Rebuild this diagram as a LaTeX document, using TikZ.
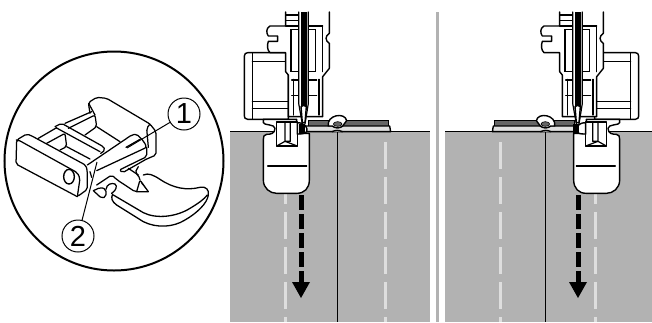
\documentclass[tikz,border=0pt]{standalone}
\usepackage{fontspec}
\setmainfont{Liberation Sans}
\definecolor{cloth}{gray}{0.70}
\definecolor{stitch}{gray}{0.87}
\definecolor{layerdark}{gray}{0.40}
\definecolor{layerlight}{gray}{0.88}
\tikzset{
  ol/.style={draw=black,line width=1.4pt,line join=round,line cap=round},
  thn/.style={draw=black,line width=1.2pt,line cap=round},
  fine/.style={draw=black,line width=1.25pt,line cap=round,line join=round,rounded corners=2pt},
  callout/.style={circle,draw=black,line width=1pt,fill=white,minimum size=32pt,inner sep=0pt,font=\fontsize{29}{29}\selectfont},
  leader/.style={draw=black,line width=1pt},
  pale/.style={draw=stitch,line width=3pt,dash pattern=on 27pt off 8pt},
  path dots/.style={draw=black,line width=5pt,dash pattern=on 15pt off 4pt}
}
\newcommand{\feedpart}{%
  \fill[layerdark,draw=black,line width=1pt] (250,378)--(250,360)--(490,360)--(490,378)--cycle;
  \path[ol,fill=layerlight] (240,395)--(240,378)--(322,378) .. controls (330,385) and (345,385) .. (353,378)--(494,378)--(497,395)--cycle;
  \path[ol,fill=white] (310,378) .. controls (304,345) and (360,335) .. (365,362)--(353,378) .. controls (345,385) and (330,385) .. (322,378)--cycle;
  \fill[layerdark,draw=black,line width=.6pt] (338,372) ellipse (13 and 7);
  \draw[black,line width=1.2pt] (337,393)--(337,966);
  \path[ol,fill=white] (322,395) .. controls (330,390) and (342,390) .. (352,395);
  \path[ol,fill=white] (68,158)--(190,158)--(190,358)--(68,358) .. controls (60,358) and (58,352) .. (58,348)--(58,168) .. controls (58,162) and (62,158) .. (68,158)--cycle;
  \draw[thn] (82,158)--(82,358) (82,185)--(190,185) (82,305)--(190,305) (82,325)--(190,325);
  \path[ol,fill=white] (115,358)--(115,368) .. controls (115,376) and (150,372) .. (150,385) .. controls (150,402) and (135,403) .. (125,403) .. controls (117,403) and (115,410) .. (115,418)--(115,540) .. controls (115,565) and (135,580) .. (155,580)--(215,580) .. controls (238,580) and (253,565) .. (253,540)--(253,400)--(215,400)--(215,358)--cycle;
  \draw[thn] (128,498)--(245,498);
  \path[ol,fill=white] (155,366)--(217,366)--(217,438)--(155,438)--cycle;
  \draw[thn] (155,438)--(180,424)--(217,438) (180,366)--(180,424) (196,366)--(196,424) (180,424)--(196,424);
  \path[ol,fill=white] (217,368) .. controls (240,368) and (250,385) .. (245,395) .. controls (240,402) and (225,402) .. (217,402)--cycle;
}
\newcommand{\shankpart}{%
  \path[ol,fill=white] (182,36)--(182,78)--(135,78) .. controls (122,85) and (124,100) .. (130,108)--(158,108)--(158,124)--(130,124) .. controls (126,135) and (126,150) .. (135,158)--(182,158)--(182,215)--(190,225)--(190,350)--(293,350)--(293,230)--(313,205)--(313,130) .. controls (300,122) and (300,108) .. (313,100)--(313,36);
  \draw[thn] (293,78)--(293,215) (182,78)--(293,78);
  \draw[thn] (198,88)--(272,88)--(272,215)--(198,215)--cycle;
  \draw[thn] (200,240)--(275,240) (200,287)--(275,287);
  \draw[thn] (182,45)--(222,45) (182,62)--(222,62);
  \draw[thn] (205,238)--(205,345) (282,238)--(282,345);
  \fill[white] (221,36)--(250,36)--(250,310)--(240,370)--(232,370)--(221,310)--cycle;
  \draw[thn] (221,36)--(221,310)--(232,372) (250,36)--(250,310)--(240,372);
  \fill[black] (228,36)--(245,36)--(245,320)--(228,320)--cycle;
  \path[ol,fill=white] (228,320)--(236,316)--(244,320)--(240,368)--(232,368)--cycle;
  \fill[black] (222,372)--(240,372)--(240,402)--(222,402)--cycle;
}
\begin{document}
\begin{tikzpicture}[x=1pt,y=-1pt]
\useasboundingbox (0,0) rectangle (652,322);
\fill[white] (0,0) rectangle (652,322);
\fill[cloth] (230,131) rectangle (430,322);
\fill[cloth] (445,131) rectangle (652,322);
\fill[cloth] (436,12) rectangle (439,322);
\draw[black,line width=1pt] (230,131)--(430,131) (445,131)--(652,131);
\draw[pale] (285,142)--(285,322);
\draw[pale] (385,142)--(385,322);
\draw[pale] (500,142)--(500,322);
\draw[pale] (595,142)--(595,322);
\begin{scope}[shift={(225,0)},x=.33333pt,y=-.33333pt]\feedpart\end{scope}
\begin{scope}[shift={(225,0)},x=.33333pt,y=-.33333pt]\shankpart\end{scope}
\begin{scope}[shift={(658,0)},x=-.33333pt,y=-.33333pt]\feedpart\end{scope}
\begin{scope}[shift={(499,0)},x=.33333pt,y=-.33333pt]\shankpart\end{scope}
\coordinate (al1) at (301,195); \coordinate (al2) at (301,283);
\coordinate (ar1) at (578,195); \coordinate (ar2) at (578,283);
\draw[path dots] (al1)--(al2);
\draw[path dots] (ar1)--(ar2);
\fill[black] (292,282)--(310,282)--(301,298)--cycle;
\fill[black] (569,282)--(587,282)--(578,298)--cycle;
% inset
\node[circle,draw=black,line width=2pt,fill=white,minimum size=219pt,inner sep=0pt] (lens) at (114,161) {};
\begin{scope}[shift={(0,60)},x=.33333pt,y=-.33333pt]
  \draw[fine] (232,410)--(48,312)--(50,240)--(80,222)--(92,226)--(258,316)--(262,335)--(262,388)--(232,410)--(240,355)--(232,338)--(55,240)--(50,240);
  \draw[ol] (207,350) ellipse (16 and 22);
  \draw[fine] (115,235)--(170,203);
  \draw[fine] (140,250)--(195,220)--(200,260)--(180,270);
  \draw[fine] (200,260)--(270,297);
  \draw[fine] (165,200)--(185,190)--(310,260)--(316,270)--(302,280);
  \draw[fine] (168,203)--(300,275);
  \draw[fine] (195,190)--(275,155);
  \draw[fine] (205,205)--(285,165)--(290,200)--(255,225);
  \draw[fine] (290,200)--(360,245);
  \draw[fine] (270,160)--(265,128)--(290,112)--(320,115)--(450,192)--(468,215)--(468,285)--(438,298);
  \draw[fine] (266,130)--(285,165);
  \draw[fine] (450,192)--(440,205)--(445,262);
  \draw[fine] (262,315)--(395,225)--(410,222)--(432,245)--(440,262)--(290,332);
  \draw[fine] (378,262)--(420,238);
  \draw[fine] (440,262)--(440,290)--(358,330)--(368,338)--(438,298);
  \draw[fine] (270,335)--(275,352);
  \draw[fine] (280,392)--(305,415)--(318,410)--(318,388)--(302,382)--(280,392);
  \draw[fine] (290,375)--(335,345)--(352,360)--(405,395)--(445,395);
  \draw[line width=1.25pt,line cap=round] (318,388) .. controls (320,372) and (335,368) .. (345,372) .. controls (352,378) and (350,390) .. (335,400);
  \draw[fine] (410,395)--(420,360)--(445,395);
  \draw[fine] (385,325)--(415,345)--(420,360);
  \draw[fine] (415,320)--(405,338)--(415,345);
  \fill[black] (420,360)--(445,395)--(425,372)--cycle;
  \draw[line width=1.3pt,line cap=round] (430,345) .. controls (445,338) and (460,345) .. (480,358) .. controls (520,385) and (560,392) .. (600,382) .. controls (618,378) and (628,390) .. (625,405) .. controls (622,430) and (590,460) .. (555,480) .. controls (520,502) and (470,505) .. (430,485)--(350,435) .. controls (336,425) and (332,415) .. (338,402);
  \draw[line width=1.3pt,line cap=round] (340,405)--(430,458) .. controls (470,478) and (530,470) .. (570,445) .. controls (595,430) and (612,418) .. (622,405);
\end{scope}
\coordinate (t1) at (127,148);
\coordinate (t2) at (97,162);
\node[callout] (c1) at (184,114) {1};
\node[callout] (c2) at (78,236) {2};
\draw[leader] (c1)--(t1);
\draw[leader] (c2)--(t2);
\end{tikzpicture}
\end{document}
